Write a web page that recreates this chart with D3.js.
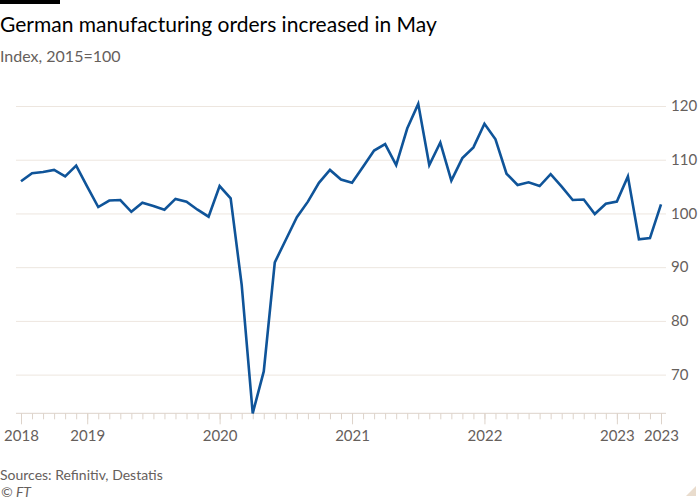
<!DOCTYPE html>
<html>
<head>
<meta charset="utf-8">
<script src="https://cdn.jsdelivr.net/npm/d3@7"></script>
<style>
  html, body { margin: 0; padding: 0; background: #ffffff; }
  svg { display: block; }
  text { font-family: "Lato", "Noto Sans", sans-serif; }
</style>
</head>
<body>
<svg id="chart" width="700" height="500"></svg>
<script>
// ---- data ----
const startMonth = new Date(2018, 6, 1);   // July 2018
const endMonth = new Date(2023, 5, 1);     // exclusive -> last is May 2023
const months = d3.timeMonth.range(startMonth, endMonth).map(d3.timeFormat("%Y-%m"));
const orders = [
  106.0, 107.5, 107.7, 108.1, 106.9, 108.9, 105.0, 101.2, 102.4, 102.5,
  100.3, 102.0, 101.4, 100.7, 102.7, 102.2, 100.7, 99.4, 105.1, 102.8,
  86.7, 62.8, 70.6, 90.9, 95.1, 99.3, 102.2, 105.7, 108.1, 106.3,
  105.7, 108.7, 111.7, 112.9, 109.0, 115.8, 120.4, 109.0, 113.2, 106.1,
  110.3, 112.3, 116.7, 113.8, 107.4, 105.3, 105.8, 105.1, 107.3, 105.0,
  102.5, 102.6, 99.9, 101.8, 102.2, 106.9, 95.2, 95.4, 101.7
];
const tickMonths = ["2018-07", "2019-01", "2020-01", "2021-01", "2022-01", "2023-01", "2023-05"];
const tickLabels = ["2018", "2019", "2020", "2021", "2022", "2023", "2023"];
const yTicks = [70, 80, 90, 100, 110, 120];

const title = "German manufacturing orders increased in May";
const subtitle = "Index, 2015=100";
const source = "Sources: Refinitiv, Destatis";
const credit = "© FT";

// ---- drawing ----
const svg = d3.select("#chart");
const gridColor = "#ede6df";
const axisColor = "#ddd3ca";
const labelColor = "#66605c";

const x = d3.scalePoint().domain(months).range([21, 661]);
const y = d3.scaleLinear().domain([d3.min(orders), 120]).range([413.3, 106]);

// top black bar
svg.append("rect").attr("x", 0).attr("y", 0).attr("width", 60).attr("height", 4).attr("fill", "#000");

svg.append("text").attr("x", 0).attr("y", 32)
  .attr("font-size", 21).attr("fill", "#000").text(title);
svg.append("text").attr("x", 0).attr("y", 62)
  .attr("font-size", 16).attr("fill", labelColor).text(subtitle);

// gridlines + y labels
const yAxis = d3.axisRight(y).tickValues(yTicks).tickSize(650).tickPadding(5).tickFormat(d3.format("d"));
const gy = svg.append("g").attr("transform", "translate(16,0)").call(yAxis);
gy.select(".domain").remove();
gy.selectAll(".tick line").attr("stroke", gridColor).attr("stroke-width", 1);
gy.selectAll(".tick text").attr("fill", labelColor).attr("font-size", 15)
  .attr("font-family", "Lato, 'Noto Sans', sans-serif");

// x axis baseline
const axisY = y(d3.min(orders));
svg.append("line").attr("x1", 16).attr("x2", 666).attr("y1", axisY).attr("y2", axisY)
  .attr("stroke", axisColor).attr("stroke-width", 1);

// minor ticks (every month)
const xMinor = d3.axisBottom(x).tickValues(months).tickSize(6).tickFormat("");
const gxm = svg.append("g").attr("transform", `translate(0,${axisY})`).call(xMinor);
gxm.select(".domain").remove();
gxm.selectAll(".tick line").attr("stroke", axisColor);

// major ticks with labels
const labelByMonth = new Map(tickMonths.map((m, i) => [m, tickLabels[i]]));
const xMajor = d3.axisBottom(x).tickValues(tickMonths).tickSize(11).tickPadding(6)
  .tickFormat(m => labelByMonth.get(m));
const gx = svg.append("g").attr("transform", `translate(0,${axisY})`).call(xMajor);
gx.select(".domain").remove();
gx.selectAll(".tick line").attr("stroke", axisColor);
gx.selectAll(".tick text").attr("fill", labelColor).attr("font-size", 15)
  .attr("font-family", "Lato, 'Noto Sans', sans-serif");

// line
const line = d3.line().x((d, i) => x(months[i])).y(d => y(d));
svg.append("path").datum(orders)
  .attr("fill", "none").attr("stroke", "#0f5499").attr("stroke-width", 2.6)
  .attr("stroke-linejoin", "miter").attr("d", line);

// footer
svg.append("text").attr("x", 0).attr("y", 480)
  .attr("font-size", 14).attr("fill", labelColor).text(source);
svg.append("text").attr("x", 1).attr("y", 497)
  .attr("font-size", 14).attr("font-style", "italic").attr("fill", labelColor).text(credit);

// corner triangle
svg.append("path").attr("d", "M696,486 L696,496 L686,496 Z").attr("fill", "#e9dccd");
</script>
</body>
</html>
